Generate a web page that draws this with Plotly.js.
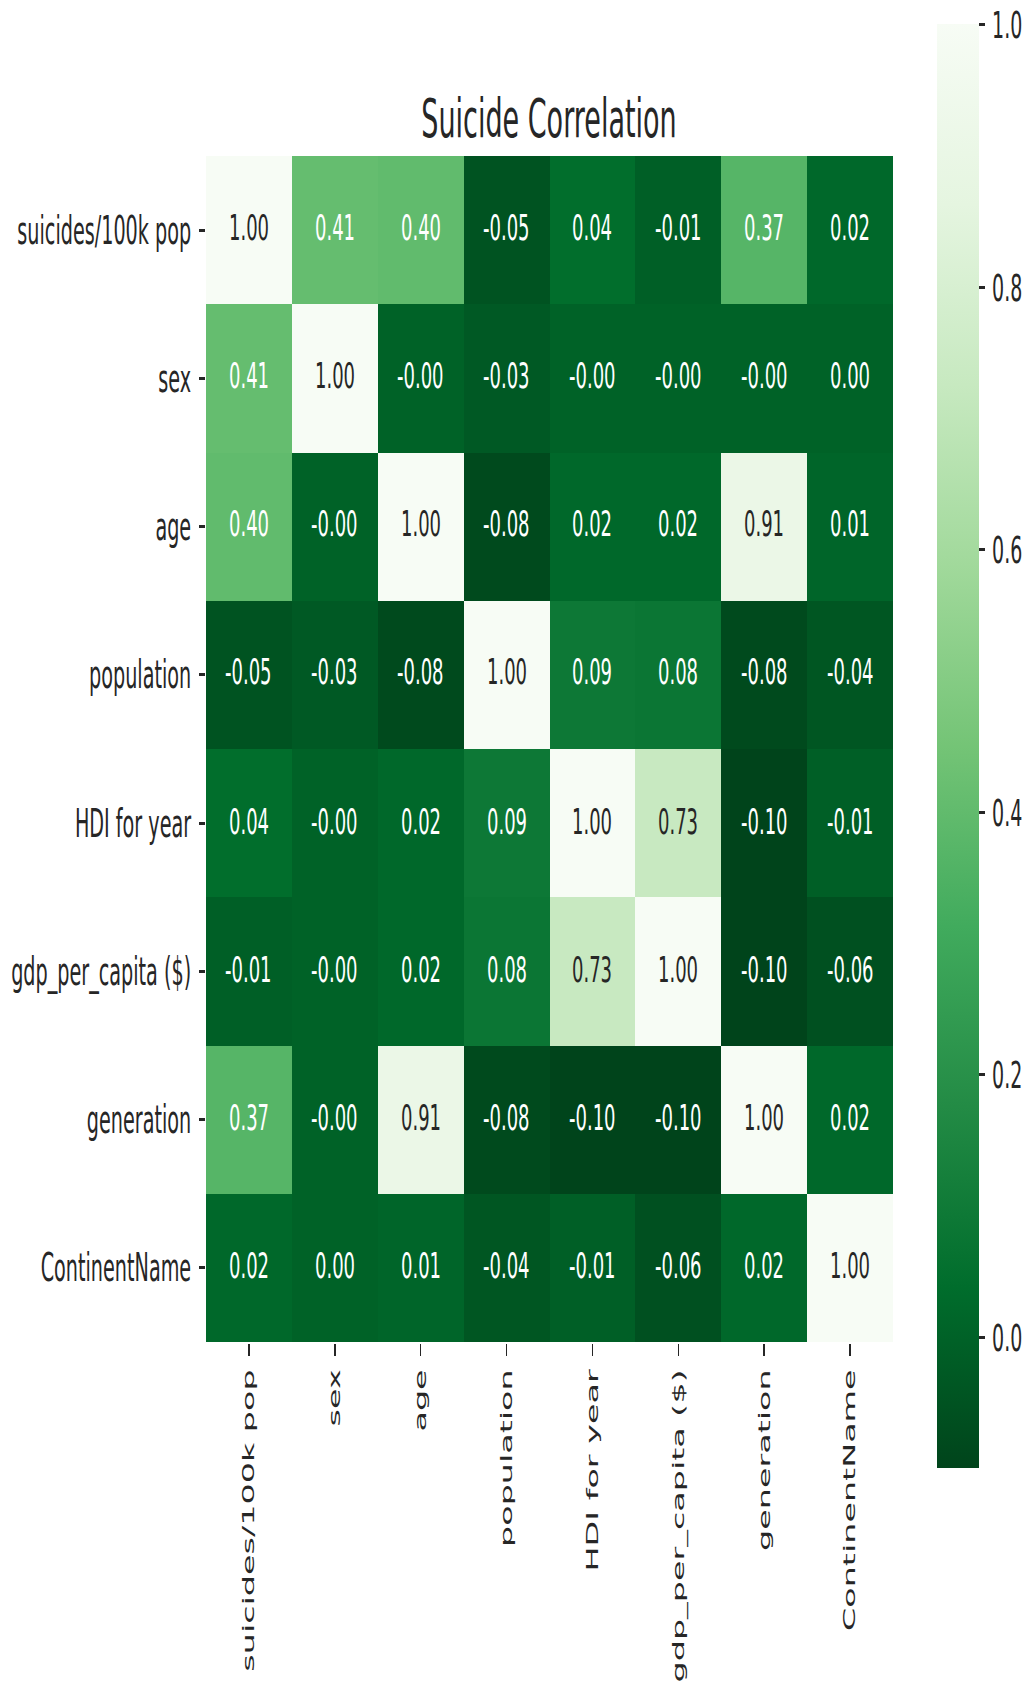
<!DOCTYPE html>
<html>
<head>
<meta charset="utf-8">
<script src="https://cdn.plot.ly/plotly-3.0.1.min.js"></script>
<style>
  html, body { margin: 0; padding: 0; background: #ffffff; }
  #frame { width: 1029px; height: 1682px; overflow: hidden; position: relative; }
  /* the figure is drawn at half height and stretched vertically */
  #chart { width: 1029px; height: 841px; transform: scaleY(2); transform-origin: 0 0; }
</style>
</head>
<body>
<div id="frame"><div id="chart"></div></div>
<script>
// Variable names, used for both axes
const variables = [
  "suicides/100k pop", "sex", "age", "population",
  "HDI for year", "gdp_per_capita ($)", "generation", "ContinentName"
];

// Correlation matrix, one row per variable (tiny negatives print as -0.00)
const rowSuicides   = [1.00, 0.41, 0.40, -0.05, 0.04, -0.01, 0.37, 0.02];
const rowSex        = [0.41, 1.00, -0.001, -0.03, -0.001, -0.001, -0.001, 0.00];
const rowAge        = [0.40, -0.001, 1.00, -0.08, 0.02, 0.02, 0.91, 0.01];
const rowPopulation = [-0.05, -0.03, -0.08, 1.00, 0.09, 0.08, -0.08, -0.04];
const rowHDI        = [0.04, -0.001, 0.02, 0.09, 1.00, 0.73, -0.10, -0.01];
const rowGDP        = [-0.01, -0.001, 0.02, 0.08, 0.73, 1.00, -0.10, -0.06];
const rowGeneration = [0.37, -0.001, 0.91, -0.08, -0.10, -0.10, 1.00, 0.02];
const rowContinent  = [0.02, 0.00, 0.01, -0.04, -0.01, -0.06, 0.02, 1.00];

const matrix = [rowSuicides, rowSex, rowAge, rowPopulation,
                rowHDI, rowGDP, rowGeneration, rowContinent];

// Colour bar ticks
const cbTickVals = [0.0, 0.2, 0.4, 0.6, 0.8, 1.0];
const cbTickText = ["0.0", "0.2", "0.4", "0.6", "0.8", "1.0"];

// Reversed "Greens" ramp: darkest at the minimum, near-white at the maximum
const greensR = [
  [0.000, "#00441b"], [0.125, "#006d2c"], [0.250, "#238b45"],
  [0.375, "#41ab5d"], [0.500, "#74c476"], [0.625, "#a1d99b"],
  [0.750, "#c7e9c0"], [0.875, "#e5f5e0"], [1.000, "#f7fcf5"]
];

const zMin = -0.10, zMax = 1.00;
const font = "DejaVu Sans, Verdana, sans-serif";

// Cell labels: dark text on light cells, white text on dark cells
const annotations = [];
matrix.forEach((row, i) => {
  row.forEach((v, j) => {
    annotations.push({
      x: variables[j], y: variables[i], xref: "x", yref: "y",
      text: v.toFixed(2), showarrow: false, yshift: 1.5,
      font: { family: font, size: 18, color: v > 0.6 ? "#262626" : "#ffffff" }
    });
  });
});

const trace = {
  type: "heatmap",
  x: variables, y: variables, z: matrix,
  zmin: zMin, zmax: zMax,
  colorscale: greensR,
  xgap: 0, ygap: 0,
  hoverinfo: "skip",
  colorbar: {
    xref: "container", yref: "container",
    x: 937 / 1029, xanchor: "left",
    y: 1 - 17.5 / 841, yanchor: "top",
    lenmode: "pixels", len: 722,
    thicknessmode: "pixels", thickness: 42,
    outlinewidth: 0, xpad: 0, ypad: 0,
    tickmode: "array", tickvals: cbTickVals,
    ticktext: cbTickText.map(t => "\u2009" + t),
    ticks: "outside", ticklen: 6, tickwidth: 1.5, tickcolor: "#262626",
    tickfont: { family: font, size: 19, color: "#262626" }
  }
};

const layout = {
  width: 1029, height: 841,
  margin: { l: 206, r: 136, t: 78, b: 170, pad: 0 },
  paper_bgcolor: "#ffffff", plot_bgcolor: "#ffffff",
  font: { family: font, color: "#262626" },
  title: {
    text: "Suicide Correlation",
    font: { family: font, size: 27, color: "#262626" },
    x: 549 / 1029, xanchor: "center",
    y: 1 - 59 / 841, yanchor: "middle"
  },
  xaxis: {
    type: "category", tickangle: -90,
    ticks: "outside", ticklen: 6, tickwidth: 1.5, tickcolor: "#262626",
    tickfont: { family: font, size: 16.7, color: "#262626" },
    showgrid: false, zeroline: false, showline: false
  },
  yaxis: {
    type: "category", autorange: "reversed",
    ticks: "outside", ticklen: 6, tickwidth: 1.5, tickcolor: "#262626",
    ticklabelstandoff: 4,
    tickfont: { family: font, size: 19.2, color: "#262626" },
    showgrid: false, zeroline: false, showline: false
  },
  annotations: annotations
};

Plotly.newPlot("chart", [trace], layout, { displayModeBar: false, staticPlot: true });
</script>
</body>
</html>
